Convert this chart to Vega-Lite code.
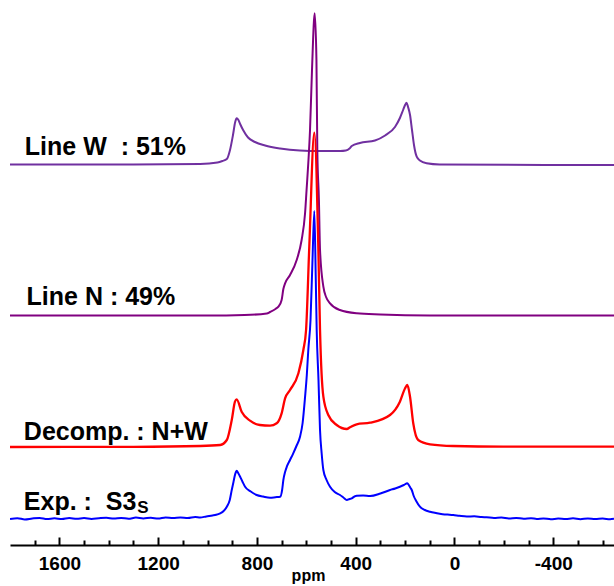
{
  "$schema": "https://vega.github.io/schema/vega-lite/v6.json",
  "width": 604,
  "height": 545,
  "autosize": {"type": "none"},
  "padding": {"left": 10, "top": 0, "right": 0, "bottom": 41},
  "config": {"view": {"stroke": null}},
  "resolve": {"axis": {"x": "independent"}},
  "datasets": {
    "spectra": [
      {"s": "W", "ppm": 1800, "y": 380.5}, {"s": "W", "ppm": 1300, "y": 380.5}, {"s": "W", "ppm": 1030, "y": 381}, {"s": "W", "ppm": 960, "y": 382.5}, {"s": "W", "ppm": 940, "y": 384}, {"s": "W", "ppm": 922, "y": 386}, {"s": "W", "ppm": 909, "y": 395}, {"s": "W", "ppm": 897, "y": 410}, {"s": "W", "ppm": 888, "y": 423}, {"s": "W", "ppm": 882, "y": 426.7}, {"s": "W", "ppm": 875, "y": 425}, {"s": "W", "ppm": 868, "y": 421}, {"s": "W", "ppm": 856, "y": 415}, {"s": "W", "ppm": 836, "y": 407.5}, {"s": "W", "ppm": 808, "y": 403}, {"s": "W", "ppm": 767, "y": 399.5}, {"s": "W", "ppm": 706, "y": 396.5}, {"s": "W", "ppm": 626, "y": 394.5}, {"s": "W", "ppm": 545, "y": 394}, {"s": "W", "ppm": 463, "y": 394}, {"s": "W", "ppm": 440, "y": 394.5}, {"s": "W", "ppm": 425, "y": 396.5}, {"s": "W", "ppm": 416, "y": 399}, {"s": "W", "ppm": 383, "y": 402}, {"s": "W", "ppm": 322, "y": 404.5}, {"s": "W", "ppm": 281, "y": 409.5}, {"s": "W", "ppm": 241, "y": 418}, {"s": "W", "ppm": 221, "y": 427}, {"s": "W", "ppm": 208, "y": 435}, {"s": "W", "ppm": 200, "y": 440}, {"s": "W", "ppm": 194, "y": 442.3}, {"s": "W", "ppm": 188, "y": 438}, {"s": "W", "ppm": 180, "y": 430}, {"s": "W", "ppm": 172, "y": 415}, {"s": "W", "ppm": 164, "y": 400}, {"s": "W", "ppm": 153, "y": 388.3}, {"s": "W", "ppm": 140, "y": 384.5}, {"s": "W", "ppm": 113, "y": 381.7}, {"s": "W", "ppm": 60, "y": 380.5}, {"s": "W", "ppm": -646, "y": 380},

      {"s": "N", "ppm": 1800, "y": 229.5}, {"s": "N", "ppm": 1000, "y": 229.5}, {"s": "N", "ppm": 850, "y": 230}, {"s": "N", "ppm": 760, "y": 231.5}, {"s": "N", "ppm": 747, "y": 233}, {"s": "N", "ppm": 725, "y": 236}, {"s": "N", "ppm": 713, "y": 238.3}, {"s": "N", "ppm": 700, "y": 245}, {"s": "N", "ppm": 693, "y": 256}, {"s": "N", "ppm": 686, "y": 261.7}, {"s": "N", "ppm": 666, "y": 270}, {"s": "N", "ppm": 639, "y": 285}, {"s": "N", "ppm": 619, "y": 305}, {"s": "N", "ppm": 605, "y": 332}, {"s": "N", "ppm": 599, "y": 355}, {"s": "N", "ppm": 592, "y": 382}, {"s": "N", "ppm": 585, "y": 415}, {"s": "N", "ppm": 577, "y": 475}, {"s": "N", "ppm": 566, "y": 531.7}, {"s": "N", "ppm": 559, "y": 485}, {"s": "N", "ppm": 555.5, "y": 395}, {"s": "N", "ppm": 549, "y": 345}, {"s": "N", "ppm": 544.5, "y": 295}, {"s": "N", "ppm": 531, "y": 258.3}, {"s": "N", "ppm": 520, "y": 248}, {"s": "N", "ppm": 504, "y": 241.7}, {"s": "N", "ppm": 464, "y": 235}, {"s": "N", "ppm": 396, "y": 231.7}, {"s": "N", "ppm": 300, "y": 230.5}, {"s": "N", "ppm": 100, "y": 229.5}, {"s": "N", "ppm": -646, "y": 229.5},

      {"s": "D", "ppm": 1800, "y": 98}, {"s": "D", "ppm": 1300, "y": 98.2}, {"s": "D", "ppm": 1030, "y": 99}, {"s": "D", "ppm": 949, "y": 100}, {"s": "D", "ppm": 922, "y": 105}, {"s": "D", "ppm": 902, "y": 125}, {"s": "D", "ppm": 889, "y": 143.3}, {"s": "D", "ppm": 882, "y": 145.7}, {"s": "D", "ppm": 862, "y": 133.3}, {"s": "D", "ppm": 828, "y": 124.3}, {"s": "D", "ppm": 788, "y": 120}, {"s": "D", "ppm": 747, "y": 119.3}, {"s": "D", "ppm": 720, "y": 121.7}, {"s": "D", "ppm": 700, "y": 131.7}, {"s": "D", "ppm": 686, "y": 146.7}, {"s": "D", "ppm": 666, "y": 155}, {"s": "D", "ppm": 632, "y": 171.7}, {"s": "D", "ppm": 612, "y": 195}, {"s": "D", "ppm": 601, "y": 215}, {"s": "D", "ppm": 588, "y": 298.3}, {"s": "D", "ppm": 567.6, "y": 412.3}, {"s": "D", "ppm": 551.5, "y": 298.3}, {"s": "D", "ppm": 544.5, "y": 215}, {"s": "D", "ppm": 531, "y": 148.3}, {"s": "D", "ppm": 511, "y": 130}, {"s": "D", "ppm": 477, "y": 120}, {"s": "D", "ppm": 436, "y": 116}, {"s": "D", "ppm": 423, "y": 117.7}, {"s": "D", "ppm": 396, "y": 120.7}, {"s": "D", "ppm": 342, "y": 122.3}, {"s": "D", "ppm": 261, "y": 130}, {"s": "D", "ppm": 221, "y": 143.3}, {"s": "D", "ppm": 200, "y": 156.7}, {"s": "D", "ppm": 191, "y": 160}, {"s": "D", "ppm": 180, "y": 148.3}, {"s": "D", "ppm": 167, "y": 121.7}, {"s": "D", "ppm": 147, "y": 105}, {"s": "D", "ppm": 99, "y": 100.7}, {"s": "D", "ppm": 5, "y": 99}, {"s": "D", "ppm": -197, "y": 98.3}, {"s": "D", "ppm": -646, "y": 98.3},

      {"s": "E", "ppm": 1800, "y": 26.0}, {"s": "E", "ppm": 1770, "y": 26.8}, {"s": "E", "ppm": 1740, "y": 25.6}, {"s": "E", "ppm": 1710, "y": 26.5}, {"s": "E", "ppm": 1680, "y": 27.1}, {"s": "E", "ppm": 1650, "y": 26.0}, {"s": "E", "ppm": 1620, "y": 26.7}, {"s": "E", "ppm": 1590, "y": 25.9}, {"s": "E", "ppm": 1560, "y": 26.9}, {"s": "E", "ppm": 1530, "y": 26.2}, {"s": "E", "ppm": 1500, "y": 27.0}, {"s": "E", "ppm": 1470, "y": 26.1}, {"s": "E", "ppm": 1440, "y": 26.8}, {"s": "E", "ppm": 1410, "y": 27.3}, {"s": "E", "ppm": 1380, "y": 26.4}, {"s": "E", "ppm": 1350, "y": 27.0}, {"s": "E", "ppm": 1320, "y": 26.3}, {"s": "E", "ppm": 1290, "y": 27.4}, {"s": "E", "ppm": 1260, "y": 26.6}, {"s": "E", "ppm": 1230, "y": 27.2}, {"s": "E", "ppm": 1200, "y": 26.5}, {"s": "E", "ppm": 1170, "y": 27.6}, {"s": "E", "ppm": 1140, "y": 26.9}, {"s": "E", "ppm": 1110, "y": 27.5}, {"s": "E", "ppm": 1080, "y": 27.0}, {"s": "E", "ppm": 1050, "y": 28.0}, {"s": "E", "ppm": 1030, "y": 27.5}, {"s": "E", "ppm": 1005, "y": 28.6}, {"s": "E", "ppm": 980, "y": 29.5}, {"s": "E", "ppm": 965, "y": 30.2}, {"s": "E", "ppm": 949, "y": 31.7}, {"s": "E", "ppm": 935, "y": 34}, {"s": "E", "ppm": 922, "y": 38.3}, {"s": "E", "ppm": 910, "y": 45}, {"s": "E", "ppm": 902, "y": 55}, {"s": "E", "ppm": 895, "y": 63}, {"s": "E", "ppm": 890, "y": 69}, {"s": "E", "ppm": 885, "y": 73}, {"s": "E", "ppm": 882, "y": 74.3}, {"s": "E", "ppm": 876, "y": 72}, {"s": "E", "ppm": 868, "y": 68.3}, {"s": "E", "ppm": 858, "y": 63}, {"s": "E", "ppm": 848, "y": 58.3}, {"s": "E", "ppm": 825, "y": 53.5}, {"s": "E", "ppm": 801, "y": 50}, {"s": "E", "ppm": 775, "y": 48.5}, {"s": "E", "ppm": 747, "y": 47.3}, {"s": "E", "ppm": 725, "y": 47.8}, {"s": "E", "ppm": 706, "y": 48.3}, {"s": "E", "ppm": 698, "y": 55}, {"s": "E", "ppm": 693, "y": 65}, {"s": "E", "ppm": 686, "y": 73}, {"s": "E", "ppm": 679, "y": 78.3}, {"s": "E", "ppm": 666, "y": 85}, {"s": "E", "ppm": 653, "y": 91.7}, {"s": "E", "ppm": 640, "y": 99}, {"s": "E", "ppm": 625.5, "y": 108.3}, {"s": "E", "ppm": 615, "y": 122}, {"s": "E", "ppm": 605, "y": 148.3}, {"s": "E", "ppm": 598, "y": 170}, {"s": "E", "ppm": 592, "y": 195}, {"s": "E", "ppm": 583, "y": 225}, {"s": "E", "ppm": 575, "y": 285}, {"s": "E", "ppm": 567.6, "y": 334}, {"s": "E", "ppm": 562, "y": 270}, {"s": "E", "ppm": 558, "y": 215}, {"s": "E", "ppm": 550.7, "y": 165}, {"s": "E", "ppm": 544.5, "y": 115}, {"s": "E", "ppm": 538, "y": 92}, {"s": "E", "ppm": 531, "y": 75}, {"s": "E", "ppm": 518, "y": 65}, {"s": "E", "ppm": 504, "y": 58.3}, {"s": "E", "ppm": 485, "y": 53}, {"s": "E", "ppm": 463.6, "y": 50}, {"s": "E", "ppm": 450, "y": 47.5}, {"s": "E", "ppm": 436, "y": 45}, {"s": "E", "ppm": 425, "y": 46}, {"s": "E", "ppm": 416, "y": 46.7}, {"s": "E", "ppm": 405, "y": 48.5}, {"s": "E", "ppm": 396, "y": 49.3}, {"s": "E", "ppm": 370, "y": 49.5}, {"s": "E", "ppm": 342, "y": 49}, {"s": "E", "ppm": 300, "y": 51.5}, {"s": "E", "ppm": 261, "y": 55}, {"s": "E", "ppm": 240, "y": 56.5}, {"s": "E", "ppm": 221, "y": 58.3}, {"s": "E", "ppm": 205, "y": 60}, {"s": "E", "ppm": 191, "y": 61.7}, {"s": "E", "ppm": 185, "y": 60}, {"s": "E", "ppm": 178, "y": 57}, {"s": "E", "ppm": 173, "y": 55}, {"s": "E", "ppm": 165, "y": 49}, {"s": "E", "ppm": 155, "y": 44}, {"s": "E", "ppm": 140, "y": 38.3}, {"s": "E", "ppm": 120, "y": 35}, {"s": "E", "ppm": 99, "y": 33.3}, {"s": "E", "ppm": 80, "y": 32.2}, {"s": "E", "ppm": 60, "y": 31.3}, {"s": "E", "ppm": 40, "y": 30.6}, {"s": "E", "ppm": 20, "y": 30.3}, {"s": "E", "ppm": 5, "y": 30}, {"s": "E", "ppm": -20, "y": 29.2}, {"s": "E", "ppm": -50, "y": 28.5}, {"s": "E", "ppm": -80, "y": 28.7}, {"s": "E", "ppm": -110, "y": 27.9}, {"s": "E", "ppm": -130, "y": 27.7}, {"s": "E", "ppm": -160, "y": 27.1}, {"s": "E", "ppm": -190, "y": 27.5}, {"s": "E", "ppm": -220, "y": 26.6}, {"s": "E", "ppm": -250, "y": 27.1}, {"s": "E", "ppm": -280, "y": 26.2}, {"s": "E", "ppm": -310, "y": 26.8}, {"s": "E", "ppm": -333, "y": 26}, {"s": "E", "ppm": -360, "y": 26.6}, {"s": "E", "ppm": -390, "y": 25.7}, {"s": "E", "ppm": -420, "y": 26.4}, {"s": "E", "ppm": -450, "y": 25.9}, {"s": "E", "ppm": -480, "y": 26.7}, {"s": "E", "ppm": -510, "y": 25.8}, {"s": "E", "ppm": -540, "y": 26.5}, {"s": "E", "ppm": -570, "y": 25.9}, {"s": "E", "ppm": -600, "y": 26.4}, {"s": "E", "ppm": -630, "y": 25.8}, {"s": "E", "ppm": -646, "y": 26.2}
    ],
    "labels": [
      {"t": "Line W\u00a0\u00a0: 51%", "ppm": 1740, "y": 390},
      {"t": "Line N : 49%", "ppm": 1733, "y": 240},
      {"t": "Decomp. : N+W", "ppm": 1744, "y": 105},
      {"t": "Exp. :\u00a0\u00a0S3", "ppm": 1744, "y": 35}
    ],
    "subs": [
      {"t": "S", "ppm": 1285, "y": 31.7}
    ]
  },
  "layer": [
    {
      "data": {"name": "spectra"},
      "transform": [{"filter": "datum.s === 'W'"}],
      "mark": {"type": "line", "color": "#7030A0", "strokeWidth": 2, "interpolate": "monotone", "clip": true},
      "encoding": {
        "x": {
          "field": "ppm", "type": "quantitative",
          "scale": {"domain": [1800, -646], "nice": false, "zero": false},
          "axis": {
            "orient": "bottom",
            "values": [1600, 1200, 800, 400, 0, -400],
            "labelExpr": "'' + datum.value",
            "ticks": false, "tickSize": 0,
            "domainColor": "black", "domainWidth": 2,
            "labelFont": "Liberation Sans", "labelFontWeight": "bold", "labelFontSize": 19, "labelColor": "black",
            "labelPadding": 9, "labelFlush": false, "labelOverlap": false,
            "grid": false,
            "title": "ppm", "titleFont": "Liberation Sans", "titleFontWeight": "bold", "titleFontSize": 16, "titleColor": "black",
            "titleAlign": "center", "titleBaseline": "alphabetic", "titleX": 298, "titleY": 35, "titleAnchor": null
          }
        },
        "y": {"field": "y", "type": "quantitative", "scale": {"domain": [0, 545], "nice": false, "zero": false}, "axis": null}
      }
    },
    {
      "data": {"name": "spectra"},
      "transform": [{"filter": "datum.s === 'N'"}],
      "mark": {"type": "line", "color": "#800080", "strokeWidth": 2, "interpolate": "monotone", "clip": true},
      "encoding": {
        "x": {
          "field": "ppm", "type": "quantitative",
          "axis": {
            "orient": "top", "offset": -545,
            "values": [1600, 1200, 800, 400, 0, -400],
            "labels": false, "domain": false, "grid": false, "title": null,
            "tickSize": 8, "tickColor": "black", "tickWidth": 2
          }
        },
        "y": {"field": "y", "type": "quantitative"}
      }
    },
    {
      "data": {"name": "spectra"},
      "transform": [{"filter": "datum.s === 'D'"}],
      "mark": {"type": "line", "color": "#FF0000", "strokeWidth": 2.3, "interpolate": "monotone", "clip": true},
      "encoding": {
        "x": {
          "field": "ppm", "type": "quantitative",
          "axis": {
            "orient": "top", "offset": -545,
            "values": [1700, 1500, 1400, 1300, 1100, 1000, 900, 700, 600, 500, 300, 200, 100, -100, -200, -300, -500, -600],
            "labels": false, "domain": false, "grid": false, "title": null,
            "tickSize": 5, "tickColor": "black", "tickWidth": 2
          }
        },
        "y": {"field": "y", "type": "quantitative"}
      }
    },
    {"data": {"name": "spectra"}, "transform": [{"filter": "datum.s === 'E'"}], "mark": {"type": "line", "color": "#0000FF", "strokeWidth": 2, "interpolate": "monotone", "clip": true},
     "encoding": {"x": {"field": "ppm", "type": "quantitative", "axis": null}, "y": {"field": "y", "type": "quantitative"}}},
    {"data": {"name": "labels"}, "mark": {"type": "text", "align": "left", "baseline": "alphabetic", "font": "Liberation Sans", "fontWeight": "bold", "fontSize": 25, "color": "black"},
     "encoding": {"x": {"field": "ppm", "type": "quantitative", "axis": null}, "y": {"field": "y", "type": "quantitative"}, "text": {"field": "t"}}},
    {"data": {"name": "subs"}, "mark": {"type": "text", "align": "left", "baseline": "alphabetic", "font": "Liberation Sans", "fontWeight": "bold", "fontSize": 17, "color": "black"},
     "encoding": {"x": {"field": "ppm", "type": "quantitative", "axis": null}, "y": {"field": "y", "type": "quantitative"}, "text": {"field": "t"}}}
  ]
}
